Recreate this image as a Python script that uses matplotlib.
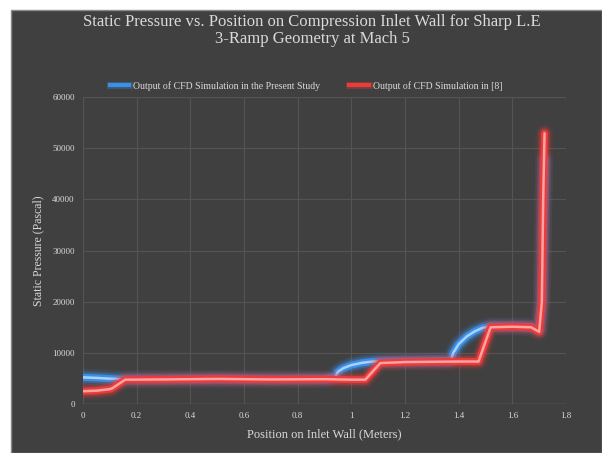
import matplotlib
matplotlib.use("Agg")
import matplotlib.pyplot as plt
from matplotlib.lines import Line2D
from matplotlib.patches import Rectangle
import matplotlib.patheffects as pe

# Wall position (m) and static pressure (Pa) along the 3-ramp inlet wall
present_x = [0.00, 0.05, 0.10, 0.15, 0.30, 0.50, 0.70, 0.90, 0.94, 0.95, 0.97,
             1.00, 1.04, 1.08, 1.11, 1.20, 1.30, 1.37, 1.38, 1.40, 1.43, 1.46,
             1.49, 1.52, 1.60, 1.67, 1.70, 1.71, 1.715, 1.72]
present_p = [5200, 5100, 4950, 4850, 4850, 4900, 4850, 4900, 5300, 6300, 7000,
             7600, 8050, 8300, 8350, 8400, 8450, 8500, 10000, 11700, 13200, 14200,
             14900, 15200, 15200, 15100, 14600, 20000, 35000, 47600]

ref_x = [0.00, 0.05, 0.10, 0.11, 0.157, 0.30, 0.50, 0.70, 0.90, 1.00, 1.052,
         1.108, 1.20, 1.30, 1.40, 1.474, 1.519, 1.60, 1.67, 1.70, 1.71, 1.715, 1.72]
ref_p = [2500, 2600, 2900, 3100, 4750, 4800, 4900, 4800, 4850, 4750, 4750,
         8000, 8200, 8250, 8300, 8300, 15000, 15100, 15000, 14100, 20000, 40000, 52900]

x_ticks = [0, 0.2, 0.4, 0.6, 0.8, 1, 1.2, 1.4, 1.6, 1.8]
x_tick_labels = ["0", "0.2", "0.4", "0.6", "0.8", "1", "1.2", "1.4", "1.6", "1.8"]
y_ticks = [0, 10000, 20000, 30000, 40000, 50000, 60000]

series_names = ["Output of CFD Simulation in the Present Study",
                "Output of CFD Simulation in [8]"]

BG = "#404040"
TXT = "#d9d9d9"
GRID = "#545454"
SERIF = ["Liberation Serif", "DejaVu Serif"]

W, H = 602, 453
fig = plt.figure(figsize=(W / 100, H / 100), dpi=100, facecolor="white")
# dark chart panel with a thin lighter edge
panel = Rectangle((11 / W, 0), 1 - 11 / W, 1 - 10 / H,
                  transform=fig.transFigure, facecolor=BG,
                  edgecolor="#8a8a8a", linewidth=1.0, zorder=-10)
fig.patches.append(panel)

ax = fig.add_axes([83 / W, 1 - 404 / H, (566 - 83) / W, (404 - 97) / H])
ax.set_zorder(1)
ax.set_facecolor(BG)
ax.set_xlim(0, 1.8)
ax.set_ylim(0, 60000)
ax.set_xticks(x_ticks)
ax.set_xticklabels(x_tick_labels)
ax.set_yticks(y_ticks)
ax.set_yticklabels([str(v) for v in y_ticks])
for s in ax.spines.values():
    s.set_visible(False)
ax.grid(True, color=GRID, linewidth=0.8)
ax.set_axisbelow(True)
ax.axhline(0, color="#656565", linewidth=1.0, zorder=1)
ax.tick_params(length=0, colors=TXT, labelsize=6.5, pad=6)
for lab in ax.get_xticklabels() + ax.get_yticklabels():
    lab.set_fontfamily(SERIF)


def glow_line(x, y, base, core, z):
    for lw, a in [(13, 0.08), (10, 0.16), (7.5, 0.35)]:
        ax.plot(x, y, color=base, lw=lw, alpha=a, solid_capstyle="round",
                solid_joinstyle="round", zorder=z)
    ax.plot(x, y, color=base, lw=5, solid_capstyle="round",
            solid_joinstyle="round", zorder=z + 0.1)
    ax.plot(x, y, color=core, lw=1.8, solid_capstyle="round",
            solid_joinstyle="round", zorder=z + 0.2)


glow_line(present_x, present_p, "#3c8fe6", "#a9d2ff", 3)
glow_line(ref_x, ref_p, "#ec3b3b", "#ffa3a3", 5)

ax.set_xlabel("Position on Inlet Wall (Meters)", color=TXT, fontsize=9,
              family=SERIF, labelpad=6)
ax.set_ylabel("Static Pressure (Pascal)", color=TXT, fontsize=8.5,
              family=SERIF, labelpad=6)

fig.text(312 / W, 1 - 22 / H,
         "Static Pressure vs. Position on Compression Inlet Wall for Sharp L.E",
         ha="center", va="center", color=TXT, fontsize=12, family=SERIF)
fig.text(312 / W, 1 - 39 / H, "3-Ramp Geometry at Mach 5",
         ha="center", va="center", color=TXT, fontsize=12, family=SERIF)

handles = [
    Line2D([], [], color="#3c8fe6", lw=3,
           path_effects=[pe.Stroke(linewidth=5, foreground="#3c8fe6", alpha=0.3), pe.Normal()]),
    Line2D([], [], color="#ec3b3b", lw=3,
           path_effects=[pe.Stroke(linewidth=5, foreground="#ec3b3b", alpha=0.3), pe.Normal()]),
]
leg = fig.legend(handles, series_names, loc="center", ncol=2,
                 bbox_to_anchor=(306 / W, 1 - 86 / H), frameon=False,
                 prop={"family": SERIF, "size": 7}, labelcolor=TXT,
                 handlelength=2.0, columnspacing=3.0, handletextpad=0.4)

fig.savefig("out.png", dpi=100, facecolor=fig.get_facecolor())
